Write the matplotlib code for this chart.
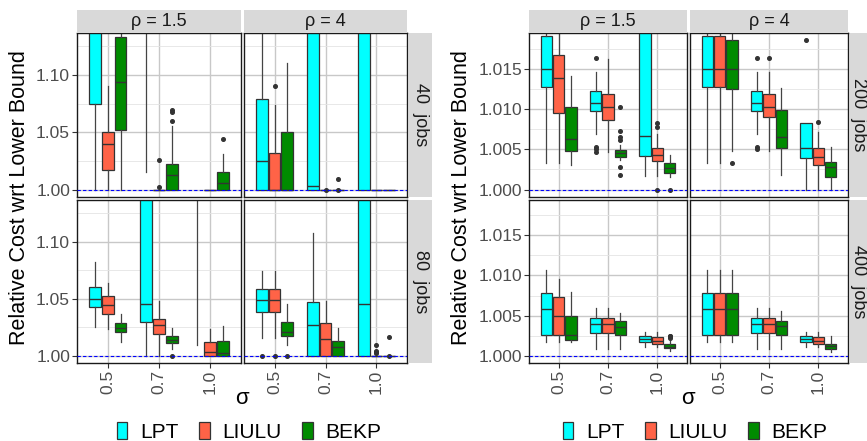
import matplotlib
matplotlib.use("Agg")
import matplotlib.pyplot as plt
from matplotlib.patches import Patch

plt.rcParams['font.family'] = ['Liberation Sans', 'DejaVu Sans']

W, H = 867, 441

SIGMAS = ["0.5", "0.7", "1.0"]
ALGOS = ["LPT", "LIULU", "BEKP"]
COLORS = ["#00FFFF", "#FF6347", "#008B00"]
RHOS = ["ρ = 1.5", "ρ = 4"]

# each row: [whisker low, q1, median, q3, whisker high]
# order: sigma 0.5 (LPT, LIULU, BEKP), sigma 0.7 (...), sigma 1.0 (...)
J40_R15 = [
    [1.000, 1.075, 1.160, 1.200, 1.300],
    [1.000, 1.017, 1.040, 1.050, 1.090],
    [1.000, 1.052, 1.094, 1.133, 1.200],
    [1.015, 1.160, 1.200, 1.250, 1.350],
    [1.000, 1.000, 1.000, 1.000, 1.000],
    [1.000, 1.000, 1.0126, 1.0225, 1.0555],
    [1.150, 1.200, 1.250, 1.300, 1.400],
    [1.000, 1.000, 1.000, 1.000, 1.000],
    [1.000, 1.000, 1.0059, 1.0155, 1.0313],
]
J40_R15_OUT = [[], [], [], [], [1.0254, 1.0024], [1.0599, 1.0678, 1.0693], [], [], [1.0441]]

J40_R4 = [
    [1.000, 1.000, 1.0252, 1.0787, 1.200],
    [1.000, 1.000, 1.000, 1.0316, 1.0734],
    [1.000, 1.000, 1.000, 1.0506, 1.1102],
    [1.000, 1.000, 1.0035, 1.200, 1.300],
    [1.000, 1.000, 1.000, 1.000, 1.000],
    [1.000, 1.000, 1.000, 1.000, 1.000],
    [1.000, 1.000, 1.200, 1.300, 1.400],
    [1.000, 1.000, 1.000, 1.000, 1.000],
    [1.000, 1.000, 1.000, 1.000, 1.000],
]
J40_R4_OUT = [[], [1.0901], [], [], [1.000], [1.0096, 1.000], [], [], []]

J80_R15 = [
    [1.0248, 1.0424, 1.0497, 1.0599, 1.0818],
    [1.0231, 1.0366, 1.0447, 1.0524, 1.0634],
    [1.0123, 1.0211, 1.0246, 1.0290, 1.0368],
    [1.000, 1.0296, 1.0456, 1.200, 1.300],
    [1.000, 1.0187, 1.0272, 1.0322, 1.0482],
    [1.0061, 1.0108, 1.0138, 1.0173, 1.0246],
    [1.009, 1.160, 1.200, 1.250, 1.350],
    [1.000, 1.000, 1.0035, 1.012, 1.0231],
    [1.000, 1.000, 1.002, 1.0132, 1.026],
]
J80_R15_OUT = [[], [], [], [], [], [1.000], [], [], []]

J80_R4 = [
    [1.0155, 1.038, 1.0485, 1.0585, 1.074],
    [1.0155, 1.038, 1.0485, 1.0585, 1.074],
    [1.0096, 1.0175, 1.021, 1.0298, 1.045],
    [1.000, 1.000, 1.0269, 1.0471, 1.1073],
    [1.000, 1.000, 1.0143, 1.0287, 1.0482],
    [1.000, 1.000, 1.0076, 1.0129, 1.0243],
    [1.000, 1.000, 1.0456, 1.200, 1.300],
    [1.000, 1.000, 1.000, 1.000, 1.000],
    [1.000, 1.000, 1.000, 1.000, 1.000],
]
J80_R4_OUT = [[1.000], [1.000], [1.000], [], [], [], [], [1.0094, 1.004, 1.003, 1.002], [1.0164, 1.000]]

J200_R15 = [
    [1.0033, 1.0127, 1.0150, 1.0190, 1.0230],
    [1.0033, 1.0095, 1.0139, 1.0167, 1.0220],
    [1.0031, 1.0048, 1.0063, 1.0103, 1.0141],
    [1.0069, 1.0097, 1.0107, 1.0122, 1.0146],
    [1.0047, 1.0086, 1.0103, 1.0118, 1.0162],
    [1.0037, 1.0041, 1.0045, 1.0049, 1.0055],
    [1.0017, 1.0042, 1.0067, 1.0250, 1.0300],
    [1.0017, 1.0036, 1.0043, 1.0051, 1.0069],
    [1.0015, 1.0020, 1.0027, 1.0033, 1.0043],
]
J200_R15_OUT = [[], [], [], [1.0163, 1.0053, 1.0050, 1.0047], [],
                [1.0103, 1.0073, 1.0065, 1.0062, 1.0028, 1.0018], [],
                [1.0083, 1.0077, 1.000], [1.000]]

J200_R4 = [
    [1.0033, 1.0127, 1.0150, 1.0190, 1.0230],
    [1.0033, 1.0127, 1.0150, 1.0190, 1.0230],
    [1.0048, 1.0125, 1.0150, 1.0185, 1.0230],
    [1.0069, 1.0097, 1.0107, 1.0122, 1.0146],
    [1.0048, 1.0090, 1.0103, 1.0118, 1.0146],
    [1.0018, 1.0052, 1.0065, 1.0099, 1.0126],
    [1.000, 1.0039, 1.0051, 1.0082, 1.0082],
    [1.000, 1.0030, 1.0040, 1.0051, 1.0071],
    [1.000, 1.0016, 1.0028, 1.0034, 1.0053],
]
J200_R4_OUT = [[], [], [1.0033], [1.0163, 1.0053, 1.0050], [1.0163], [], [1.0185], [1.0084], []]

J400_R15 = [
    [1.0017, 1.0026, 1.0058, 1.0078, 1.0107],
    [1.0017, 1.0026, 1.0050, 1.0073, 1.0096],
    [1.0017, 1.0019, 1.0026, 1.0050, 1.0080],
    [1.0008, 1.0028, 1.0040, 1.0047, 1.0060],
    [1.0008, 1.0028, 1.0040, 1.0047, 1.0060],
    [1.0008, 1.0026, 1.0036, 1.0043, 1.0053],
    [1.0011, 1.0017, 1.0021, 1.0025, 1.0029],
    [1.0011, 1.0014, 1.0018, 1.0023, 1.0029],
    [1.0006, 1.0009, 1.0011, 1.0014, 1.0018],
]
J400_R15_OUT = [[], [], [], [], [], [], [], [], [1.0025, 1.0024, 1.0022]]

J400_R4 = [
    [1.0017, 1.0026, 1.0058, 1.0078, 1.0107],
    [1.0017, 1.0026, 1.0058, 1.0078, 1.0107],
    [1.0017, 1.0026, 1.0058, 1.0078, 1.0107],
    [1.0008, 1.0028, 1.0040, 1.0047, 1.0060],
    [1.0008, 1.0028, 1.0040, 1.0047, 1.0060],
    [1.0008, 1.0026, 1.0037, 1.0043, 1.0056],
    [1.0011, 1.0017, 1.0021, 1.0025, 1.0029],
    [1.0011, 1.0014, 1.0018, 1.0023, 1.0029],
    [1.0005, 1.0008, 1.0012, 1.0015, 1.0024],
]
J400_R4_OUT = [[], [], [], [], [], [], [], [], []]


def px_axes(fig, x0, y0, x1, y1):
    return fig.add_axes([x0 / W, 1 - y1 / H, (x1 - x0) / W, (y1 - y0) / H])


def draw_facet(ax, rows, outs, ylim, major, minor, fmt, show_y, show_x):
    stats, pos = [], []
    for k, (r, fl) in enumerate(zip(rows, outs)):
        stats.append(dict(whislo=r[0], q1=r[1], med=r[2], q3=r[3], whishi=r[4], fliers=fl))
        pos.append(k // 3 + 1 + (k % 3 - 1) * 0.25)
    bp = ax.bxp(stats, positions=pos, widths=0.23, patch_artist=True, showcaps=False,
                boxprops=dict(edgecolor="#333333", linewidth=0.9),
                medianprops=dict(color="#333333", linewidth=1.0),
                whiskerprops=dict(color="#444444", linewidth=0.9),
                flierprops=dict(marker="o", markersize=2.6, markerfacecolor="#333333",
                                markeredgecolor="#333333"))
    for k, box in enumerate(bp["boxes"]):
        box.set_facecolor(COLORS[k % 3])
    ax.axhline(1.0, color="blue", ls="--", lw=0.8, dashes=(3, 2), zorder=5)

    ax.set_xlim(0.4, 3.6)
    ax.set_ylim(*ylim)
    ax.set_xticks([1, 2, 3])
    ax.set_yticks(major)
    ax.set_yticks(minor, minor=True)
    ax.grid(which="major", color="#C8C8C8", lw=1.0)
    ax.grid(which="minor", axis="y", color="#E4E4E4", lw=0.6)
    ax.set_axisbelow(True)
    for s in ax.spines.values():
        s.set_color("#1A1A1A")
        s.set_linewidth(1.0)
    ax.tick_params(which="major", length=3.5, width=0.8, color="#333333",
                   labelsize=12.5, labelcolor="#4D4D4D", pad=1.5)
    ax.tick_params(which="minor", length=0)
    if show_y:
        ax.set_yticklabels([fmt.format(v) for v in major])
    else:
        ax.tick_params(axis="y", labelleft=False, length=0)
    if show_x:
        ax.set_xticklabels(SIGMAS, rotation=90)
    else:
        ax.tick_params(axis="x", labelbottom=False, length=0)


def strip(fig, x0, y0, x1, y1, text, rot=0, tx=0.5):
    s = px_axes(fig, x0, y0, x1, y1)
    s.set_facecolor("#D9D9D9")
    s.set_xticks([])
    s.set_yticks([])
    for sp in s.spines.values():
        sp.set_visible(False)
    s.text(tx, 0.5, text, transform=s.transAxes, ha="center", va="center",
           fontsize=13, color="#1A1A1A", rotation=rot)


fig = plt.figure(figsize=(W / 100, H / 100), dpi=100)

left_cols = [(77, 241), (244, 407)]
right_cols = [(529, 687), (690, 848)]
rows_y = [(33, 197), (200, 363)]

left_data = [[(J40_R15, J40_R15_OUT), (J40_R4, J40_R4_OUT)],
             [(J80_R15, J80_R15_OUT), (J80_R4, J80_R4_OUT)]]
right_data = [[(J200_R15, J200_R15_OUT), (J200_R4, J200_R4_OUT)],
              [(J400_R15, J400_R15_OUT), (J400_R4, J400_R4_OUT)]]

for cols, data, ylim, major, minor, fmt, labels, sx, tx in [
    (left_cols, left_data, (0.9935, 1.1365), [1.00, 1.05, 1.10],
     [1.025, 1.075, 1.125], "{:.2f}", ["40  jobs", "80  jobs"], 409, 0.5),
    (right_cols, right_data, (0.999075, 1.019425), [1.000, 1.005, 1.010, 1.015],
     [1.0025, 1.0075, 1.0125, 1.0175], "{:.3f}", ["200  jobs", "400  jobs"], 850, 0.36),
]:
    for i, (y0, y1) in enumerate(rows_y):
        for j, (x0, x1) in enumerate(cols):
            ax = px_axes(fig, x0, y0, x1, y1)
            rows, outs = data[i][j]
            draw_facet(ax, rows, outs, ylim, major, minor, fmt, j == 0, i == 1)
        strip(fig, sx, y0, sx + 23, y1, labels[i], rot=-90, tx=tx)
    for j, (x0, x1) in enumerate(cols):
        strip(fig, x0, 10, x1, 33, RHOS[j])

for xc in (20, 462):
    fig.text(xc / W, 1 - 198 / H, "Relative Cost wrt Lower Bound", rotation=90,
             ha="center", va="center", fontsize=15.5)
for xc in (242, 688):
    fig.text(xc / W, 1 - 398 / H, "σ", ha="center", va="center", fontsize=16)

handles = [Patch(facecolor=c, edgecolor="#333333", linewidth=0.9) for c in COLORS]
for xc in (249, 695):
    fig.legend(handles, ALGOS, loc="center", bbox_to_anchor=(xc / W, 1 - 432 / H),
               ncol=3, frameon=False, fontsize=15, handlelength=0.5, handleheight=0.9,
               handletextpad=0.6, columnspacing=1.0, borderpad=0)

fig.savefig("out.png", dpi=100)
